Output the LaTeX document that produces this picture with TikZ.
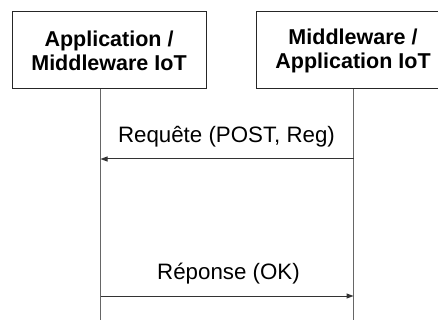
\documentclass[tikz,border=0pt]{standalone}
\usepackage{fontspec}
\setmainfont{Liberation Sans}
\usetikzlibrary{arrows.meta}
\begin{document}
\begin{tikzpicture}[x=1pt,y=-1pt,
  actor/.style={draw=black!85, line width=1pt, fill=white, minimum width=194pt, minimum height=77pt, inner sep=0pt, align=center, font=\fontsize{21.5}{24}\selectfont\bfseries},
  lifeline/.style={draw=black!60, line width=1pt},
  msg/.style={draw=black!80, line width=1pt, -{Triangle[length=7pt,width=5pt]}},
  lbl/.style={font=\fontsize{22.3}{24}\selectfont, inner sep=0pt, anchor=base}]
\useasboundingbox (0,0) rectangle (438,320);
\begin{scope}
\clip (0,0) rectangle (438,320);
\node[actor] (A) at (109,50.5) {Application /\\Middleware IoT};
\node[actor] (B) at (353,50.5) {Middleware /\\Application IoT};
\end{scope}
\coordinate (Atop) at (100.5,89);
\coordinate (Abot) at (100.5,320);
\coordinate (Btop) at (353.5,89);
\coordinate (Bbot) at (353.5,320);
\draw[lifeline] (Atop) -- (Abot);
\draw[lifeline] (Btop) -- (Bbot);
\coordinate (r1) at (353.5,159);
\coordinate (r2) at (100.5,159);
\draw[msg] (r1) -- (r2);
\node[lbl] (t1) at (226.5,143) {Requête (POST, Reg)};
\coordinate (s1) at (100.5,296);
\coordinate (s2) at (353.5,296);
\draw[msg] (s1) -- (s2);
\node[lbl] (t2) at (228.5,279) {Réponse (OK)};
\end{tikzpicture}
\end{document}
